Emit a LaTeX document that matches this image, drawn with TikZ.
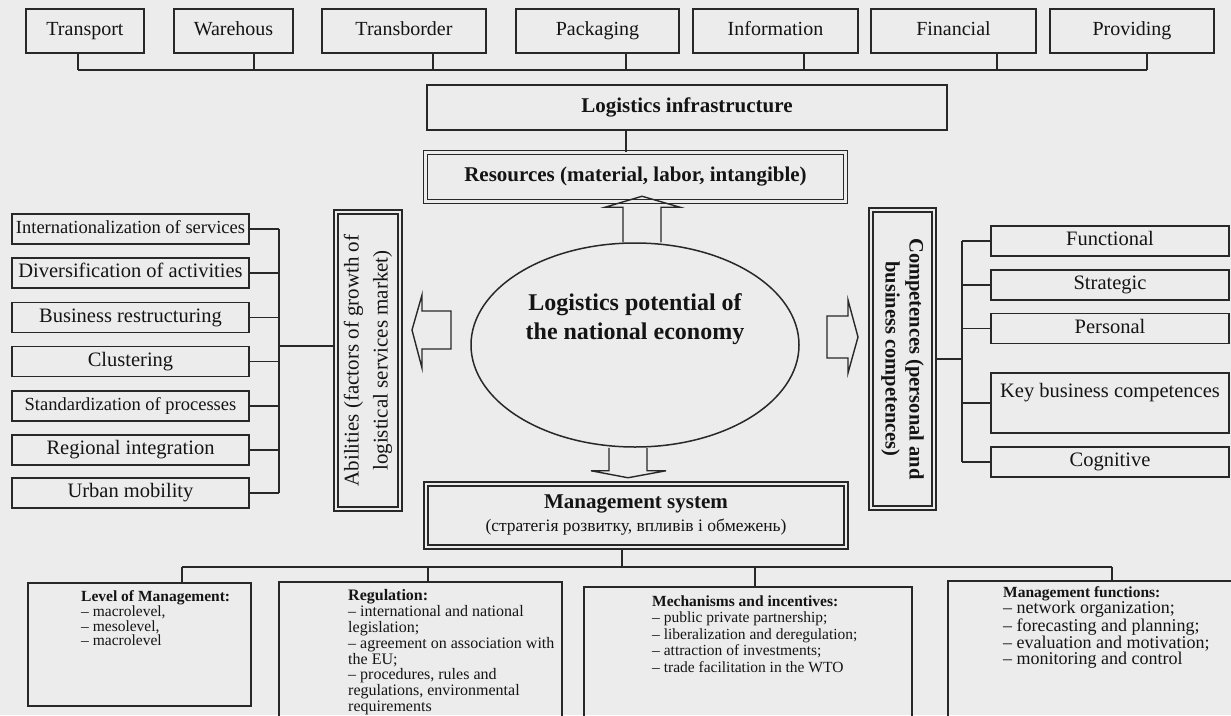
\documentclass[tikz,border=0pt]{standalone}
\usepackage{fontspec}
\setmainfont{Liberation Serif}
\usetikzlibrary{shapes.geometric}

\definecolor{bgc}{RGB}{236,236,236}
\definecolor{linec}{RGB}{40,40,40}
\definecolor{txtc}{RGB}{20,20,20}

\begin{document}
\begin{tikzpicture}[x=1pt, y=-1pt,
  every node/.style={text=txtc},
  box/.style={draw=linec, line width=1.6pt, rectangle, inner sep=0pt},
  dbox/.style={draw=linec, line width=1.4pt, double=bgc, double distance=2.4pt, rectangle, inner sep=0pt},
  topbox/.style={box, minimum height=44pt, text height=14pt, text depth=4.5pt, font=\fontsize{20}{22}\selectfont},
  lbox/.style={box, minimum width=237pt, minimum height=30pt, text height=14pt, text depth=4.5pt, font=\fontsize{20.5}{22}\selectfont},
  rbox/.style={box, minimum width=238pt, minimum height=30pt, text height=14pt, text depth=4.5pt, font=\fontsize{20.5}{22}\selectfont},
  btext/.style={anchor=north west, align=left, inner sep=0pt, font=\fontsize{15.5}{15.8}\selectfont},
  link/.style={draw=linec, line width=1.5pt},
  hollow/.style={draw=linec, line width=1.4pt, line join=miter}
]
\useasboundingbox (0,0) rectangle (1231,715);
\fill[bgc] (0,0) rectangle (1231,715);
\clip (0,0) rectangle (1231,715);

% top row
\node[topbox, minimum width=118pt] (transport) at (85,31) {Transport};
\node[topbox, minimum width=119pt] (warehous) at (233.5,31) {Warehous};
\node[topbox, minimum width=164pt] (transborder) at (404,31) {Transborder};
\node[topbox, minimum width=163pt] (packaging) at (597.5,31) {Packaging};
\node[topbox, minimum width=165pt] (information) at (775.5,31) {Information};
\node[topbox, minimum width=165pt] (financial) at (953.5,31) {Financial};
\node[topbox, minimum width=164pt] (providing) at (1132,31) {Providing};

\coordinate (tbusL) at (78,70);
\coordinate (tbusR) at (1147,70);
\draw[link] (tbusL) -- (tbusR);
\foreach \n/\x in {transport/78, warehous/254, transborder/433, packaging/626,
                   information/804, financial/997, providing/1147} {
  \draw[link] (\x,70) -- (\x,70 |- \n.south);
}

\node[box, minimum width=520pt, minimum height=45pt,
      font=\fontsize{21}{23}\selectfont\bfseries] (infra) at (687,107.5) {Logistics infrastructure};
\node[dbox, minimum width=420pt, minimum height=49pt,
      font=\fontsize{21}{23}\selectfont\bfseries] (res) at (635.5,177) {Resources (material, labor, intangible)};
\draw[link] (626,0 |- infra.south) -- (626,0 |- res.north);

% centre
\node[draw=linec, line width=1.5pt, ellipse, minimum width=328pt, minimum height=204pt, inner sep=0pt] (eco) at (635,345) {};
\node[align=center, font=\fontsize{24}{29}\selectfont\bfseries] (ecotxt) at (635,319) {Logistics potential of\\the national economy};

\draw[hollow] ([xshift=-12pt]eco.north) -- ++(0,-35) -- ++(-18,0) -- ++(37,-11) -- ++(38,11) -- ++(-19,0) -- ++(0,35);
\draw[hollow] ([xshift=-26pt]eco.south) -- ++(0,23) -- ++(-18,0) -- ++(37,7) -- ++(38,-7) -- ++(-19,0) -- ++(0,-23);
\draw[hollow] (451,311) -- (422,311) -- (422,295) -- (412,330) -- (422,368) -- (422,349) -- (451,349) -- cycle;
\draw[hollow] (827,316) -- (848,316) -- (848,300) -- (858,337) -- (848,373) -- (848,358) -- (827,358) -- cycle;

\node[dbox, minimum width=420pt, minimum height=63pt, align=center,
      font=\fontsize{17.5}{23}\selectfont] (mgmt) at (636,515.5)
      {{\fontsize{21}{23}\selectfont\bfseries Management system}\\(стратегія розвитку, впливів і обмежень)};

% left side
\node[lbox, font=\fontsize{18.5}{20}\selectfont] (intl) at (130.5,229) {Internationalization of services};
\node[lbox] (divers) at (130.5,273) {Diversification of activities};
\node[lbox] (restr) at (130.5,317.5) {Business restructuring};
\node[lbox] (clust) at (130.5,361.5) {Clustering};
\node[lbox, font=\fontsize{18.5}{20}\selectfont] (stand) at (130.5,406) {Standardization of processes};
\node[lbox] (regint) at (130.5,450) {Regional integration};
\node[lbox] (urban) at (130.5,493) {Urban mobility};

\node[dbox, rotate=90, minimum width=297pt, minimum height=64pt, align=center,
      font=\fontsize{21}{29}\selectfont] (abil) at (368,360.5)
      {Abilities (factors of growth of\\logistical services market)};

\coordinate (lbus) at (279,346);
\draw[link] (intl.east -| lbus) -- (urban.east -| lbus);
\foreach \n in {intl, divers, restr, clust, stand, regint, urban} {
  \draw[link] (\n.east) -- (\n.east -| lbus);
}
\draw[link] (lbus) -- (lbus -| abil.north);

% right side
\node[dbox, rotate=-90, minimum width=298pt, minimum height=63pt, align=center,
      font=\fontsize{20.5}{24}\selectfont\bfseries] (comp) at (902.5,359)
      {Competences (personal and\\business competences)};

\node[rbox] (func) at (1110,241) {Functional};
\node[rbox] (strat) at (1110,285) {Strategic};
\node[rbox] (pers) at (1110,328.5) {Personal};
\node[rbox, minimum height=60pt, text depth=26pt] (keybus) at (1110,403) {Key business competences};
\node[rbox] (cogn) at (1110,462) {Cognitive};

\coordinate (rbus) at (962,359);
\draw[link] (rbus -| comp.north) -- (rbus);
\draw[link] (func.west -| rbus) -- (cogn.west -| rbus);
\foreach \n in {func, strat, pers, keybus, cogn} {
  \draw[link] (\n.west) -- (\n.west -| rbus);
}

% bottom row
\node[box, minimum width=223pt, minimum height=123pt] (level) at (139.5,644.5) {};
\node[box, minimum width=283pt, minimum height=150pt] (regul) at (420.5,657) {};
\node[box, minimum width=328pt, minimum height=145pt] (mech) at (748,659.5) {};
\node[box, minimum width=297pt, minimum height=150pt] (mfun) at (1096.5,656) {};

\coordinate (bbus) at (622,567);
\draw[link] (mgmt.south -| bbus) -- (bbus);
\draw[link] (182,567) -- (1112,567);
\foreach \n/\x in {level/182, regul/428, mech/755, mfun/1112} {
  \draw[link] (\x,567) -- (\x,567 |- \n.north);
}

\node[btext, font=\fontsize{15.5}{14.7}\selectfont] (leveltxt) at (81,590.5)
  {\textbf{Level of Management:}\\– macrolevel,\\– mesolevel,\\– macrolevel};
\node[btext, font=\fontsize{16}{15.8}\selectfont] (regultxt) at (348,589.5)
  {\textbf{Regulation:}\\– international and national\\legislation;\\– agreement on association with\\the EU;\\– procedures, rules and\\regulations, environmental\\requirements};
\node[btext, font=\fontsize{15.5}{16.5}\selectfont] (mechtxt) at (652,595.5)
  {\textbf{Mechanisms and incentives:}\\– public private partnership;\\– liberalization and deregulation;\\– attraction of investments;\\– trade facilitation in the WTO};
\node[btext, font=\fontsize{18}{16}\selectfont] (mfuntxt) at (1003,586.5)
  {{\fontsize{15.5}{16}\selectfont\bfseries Management functions:}\\– network organization;\\– forecasting and planning;\\– evaluation and motivation;\\– monitoring and control};

\end{tikzpicture}
\end{document}
